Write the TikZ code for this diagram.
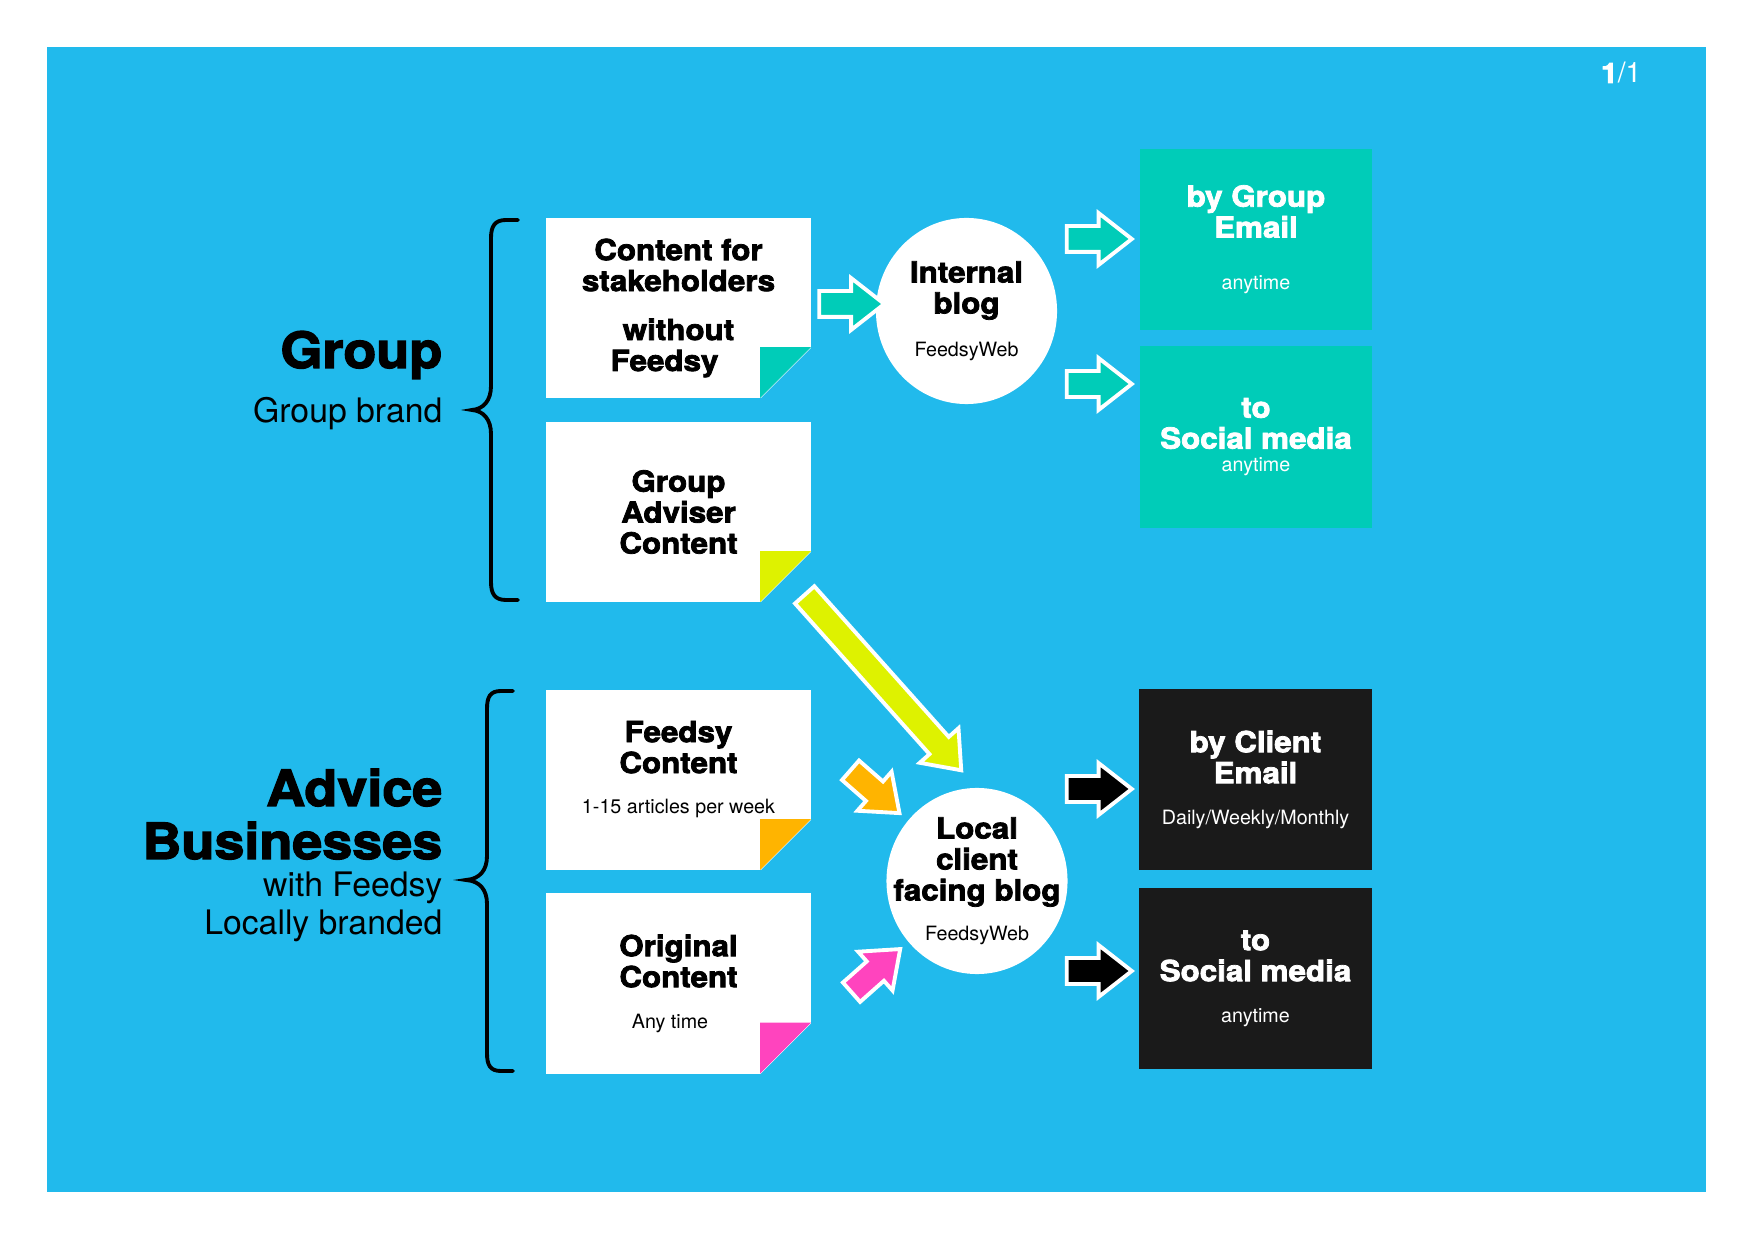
\documentclass[tikz,border=0pt]{standalone}
\usepackage{fontspec}
\setmainfont{TeX Gyre Heros}
\newfontfamily\heavyfont{TeX Gyre Heros}[FakeStretch=1.08,BoldFeatures={FakeBold=2.6}]
\usetikzlibrary{shapes.geometric,shapes.arrows,calc}

\definecolor{feedblue}{RGB}{33,186,236}
\definecolor{feedteal}{RGB}{0,204,184}
\definecolor{feedblack}{RGB}{26,26,26}
\definecolor{feedlime}{RGB}{222,242,0}
\definecolor{feedorange}{RGB}{255,180,0}
\definecolor{feedpink}{RGB}{255,68,190}

\newcommand\boxfont{\heavyfont\bfseries\fontsize{8.25}{8.8}\selectfont}
\newcommand\subfont{\normalfont\fontsize{5.6}{6.5}\selectfont}
\newcommand\sidefont{\heavyfont\bfseries\fontsize{14.2}{14.8}\selectfont}
\newcommand\sidesubfont{\normalfont\fontsize{9.6}{10.5}\selectfont}

\begin{document}
\begin{tikzpicture}[x=0.01cm, y=-0.01cm,
  note/.style={fill=white, minimum width=2.65cm, minimum height=1.8cm,
    inner sep=0pt, outer sep=0pt, align=center, font=\boxfont},
  blog/.style={ellipse, fill=white, minimum width=1.81cm, minimum height=1.86cm,
    inner sep=0pt, outer sep=0pt},
  blogtext/.style={align=center, font=\boxfont, inner sep=0pt},
  outbox/.style={fill=#1, minimum width=2.32cm, minimum height=1.81cm,
    inner sep=0pt, outer sep=0pt, align=center, text=white, font=\boxfont},
  blockarrow/.style={single arrow, fill=#1, draw=white, line width=1.1pt,
    minimum height=0.65cm, inner xsep=0pt, inner ysep=0.11cm,
    single arrow head extend=0.13cm, single arrow tip angle=76, sloped},
  side/.style={anchor=base east, inner sep=0pt, font=\sidefont},
  sidesub/.style={anchor=base east, inner sep=0pt, font=\sidesubfont},
  brace/.style={line width=1.1pt, line cap=round}]

  % page and background
  \useasboundingbox (0,0) rectangle (1754,1240);
  \fill[white] (0,0) rectangle (1754,1240);
  \fill[feedblue] (47,47) rectangle (1706,1192);
  \node[anchor=base east, inner sep=0pt, text=white, font=\fontsize{8}{9}\selectfont]
    (pageno) at (1642,83) {{\heavyfont\bfseries 1}/1};

  % left hand labels
  \node[side] (grouptitle) at (443,368) {Group};
  \node[sidesub] (groupbrand) at (443,423) {Group brand};
  \node[side] (advicetitle) at (443,806) {Advice};
  \node[side] (businesstitle) at (443,859) {Businesses};
  \node[sidesub] (withfeedsy) at (443,897) {with Feedsy};
  \node[sidesub] (localbrand) at (443,935) {Locally branded};

  % braces
  \draw[brace] (518,220) -- (506,220) .. controls (495,220) and (491,226) .. (491,238)
    -- (491,386) .. controls (491,400) and (484,409) .. (472,410)
    .. controls (484,411) and (491,420) .. (491,434)
    -- (491,582) .. controls (491,594) and (495,600) .. (506,600) -- (518,600);
  \draw[brace] (513,691) -- (501,691) .. controls (490,691) and (487,697) .. (487,709)
    -- (487,856) .. controls (487,870) and (480,879) .. (466,880)
    .. controls (480,881) and (487,890) .. (487,904)
    -- (487,1053) .. controls (487,1065) and (490,1071) .. (501,1071) -- (513,1071);

  % content notes
  \node[note] (note1) at (678.5,308)
    {Content for\\stakeholders\\[0.18cm]without\\Feedsy\hspace*{0.28cm}};
  \node[note] (note2) at (678.5,512) {Group\\Adviser\\Content};
  \node[note, text depth=0.26cm] (note3) at (678.5,780)
    {Feedsy\\Content\\[0.09cm]{\subfont 1-15 articles per week}};
  \node[note] (note4) at (678.5,983.5)
    {Original\\Content\\[0.10cm]{\subfont Any time\hspace*{0.17cm}}};
  % folded corners
  \foreach \n/\c in {note1/feedteal, note2/feedlime, note3/feedorange, note4/feedpink}{
    \fill[feedblue] ([xshift=0.01cm,yshift=-0.01cm]\n.south east) -- ++(-52,0) -- ++(52,-52) -- cycle;
    \fill[\c] ($(\n.south east)+(-51,0)$) -- ++(0,-51) -- ++(51,0) -- cycle;
  }

  % blogs
  \node[blog, label={[blogtext]center:{Internal\\blog\\[0.12cm]{\subfont FeedsyWeb}}}]
    (iblog) at (966.5,311) {};
  \node[blog, label={[blogtext]center:{Local\\client\\facing blog\\[0.09cm]{\subfont FeedsyWeb}}}]
    (lblog) at (977,881) {};

  % channels
  \node[outbox=feedteal] (gbox1) at (1256,239.5)
    {by Group\\Email\\[0.21cm]{\subfont anytime}};
  \node[outbox=feedteal] (gbox2) at (1256,437)
    {to\\Social media\\[-0.08cm]{\subfont anytime}};
  \node[outbox=feedblack] (cbox1) at (1255.5,779.5)
    {by Client\\Email\\[0.10cm]{\subfont Daily/Weekly/Monthly}};
  \node[outbox=feedblack] (cbox2) at (1255.5,978.5)
    {to\\Social media\\[0.10cm]{\subfont anytime}};

  % arrows
  \path ([yshift=0.04cm]note1.east) -- ([yshift=0.04cm]note1.east -| iblog.west)
    node[blockarrow=feedteal, midway] (a1) {};
  \path ($(iblog.east)+(0,-72)$) -- ($(gbox1.west |- iblog.east)+(-15,-72)$)
    node[blockarrow=feedteal, midway] (a2) {};
  \path ($(iblog.east)+(0,73)$) -- ($(gbox2.west |- iblog.east)+(-15,73)$)
    node[blockarrow=feedteal, midway] (a3) {};
  \path (note2.south east) -- (lblog.north)
    node[blockarrow=feedlime, pos=0.4, minimum height=2.35cm] (a4) {};
  \path ($(note3.east)+(38,-11)$) -- (lblog)
    node[blockarrow=feedorange, pos=0, anchor=tail] (a5) {};
  \path ($(note4.east)+(39,10)$) -- (lblog)
    node[blockarrow=feedpink, pos=0, anchor=tail] (a6) {};
  \path ($(lblog.east)+(-9,-92)$) -- ($(cbox1.west |- lblog.east)+(-16,-92)$)
    node[blockarrow=black, midway] (a7) {};
  \path ($(lblog.east)+(-9,90)$) -- ($(cbox2.west |- lblog.east)+(-16,90)$)
    node[blockarrow=black, midway] (a8) {};
\end{tikzpicture}
\end{document}
